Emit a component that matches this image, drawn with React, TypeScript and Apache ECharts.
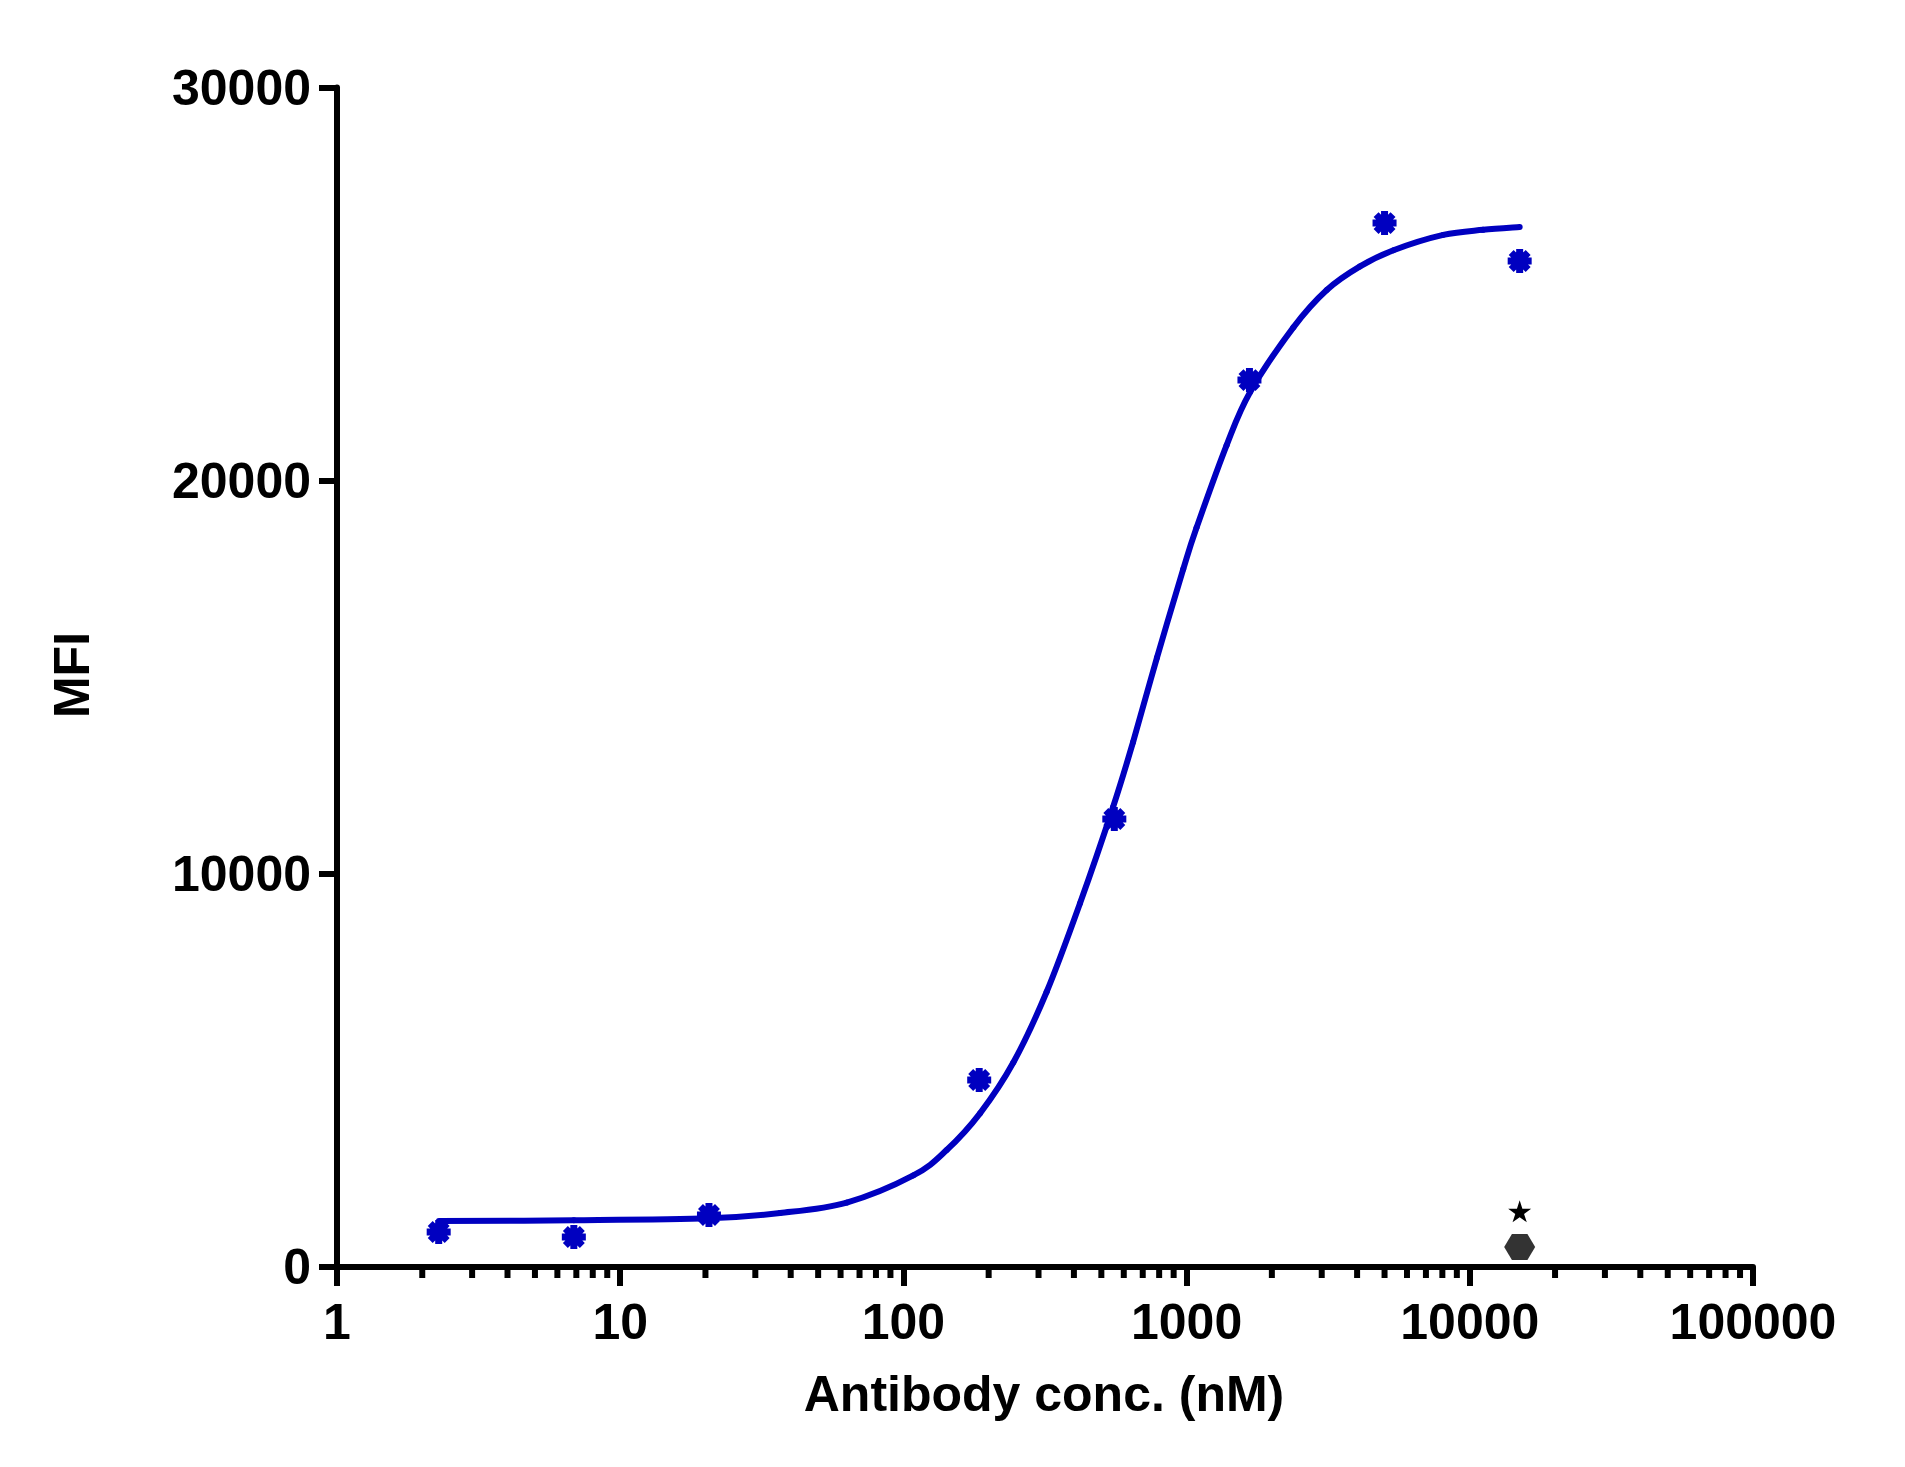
import React, { useEffect, useRef } from "react";
import * as echarts from "echarts";

const concentrations = [2.286, 6.859, 20.58, 185.2, 555.6, 1667, 5000, 15000];
const mfiValues = [890, 763, 1322, 4756, 11394, 22558, 26551, 25585];

// Fitted curve at these concentrations
const fitX = [
  2.29, 6.86, 20.6, 36.7, 63.1, 108.4, 142.2, 186.4, 244.4, 320.6, 420.4, 550, 647, 786, 973,
  1084, 1384, 1675, 2383, 3126, 4096, 5375, 8055, 11143, 15000,
];
const fitY = [
  1170, 1188, 1238, 1373, 1640, 2330, 2976, 3909, 5200, 7000, 9250, 11700, 13350, 15500, 17750,
  18800, 20900, 22250, 23900, 24850, 25450, 25860, 26250, 26380, 26450,
];

// Control markers at the highest concentration
const controlX = [15000];
const starValues = [1416];
const hexValues = [509];

// Axis ticks
const xTickValues = [1, 10, 100, 1000, 10000, 100000];
const yTickValues = [0, 10000, 20000, 30000];
const minorMultipliers = [2, 3, 4, 5, 6, 7, 8, 9];

const FONT = '"Liberation Sans", Arial, Helvetica, sans-serif';
const BLUE = "#0000C0";

const ASTERISK =
  "path://M8.5,0 L15.5,0 L15.5,24 L8.5,24 Z M0,8.5 L24,8.5 L24,15.5 L0,15.5 Z M1.04,5.99 L5.99,1.04 L22.96,18.01 L18.01,22.96 Z M5.99,22.96 L1.04,18.01 L18.01,1.04 L22.96,5.99 Z M12,4 L17.66,6.34 L20,12 L17.66,17.66 L12,20 L6.34,17.66 L4,12 L6.34,6.34 Z";
const STAR =
  "path://M100,0 L122.45,69.1 L195.1,69.1 L136.3,111.8 L158.8,180.9 L100,138.2 L41.2,180.9 L63.7,111.8 L4.9,69.1 L77.55,69.1 Z";
const HEXAGON = "path://M0,13 L7.75,0 L23.25,0 L31,13 L23.25,26 L7.75,26 Z";

export default function App() {
  const ref = useRef<HTMLDivElement>(null);

  useEffect(() => {
    if (!ref.current) return;
    const chart = echarts.init(ref.current, undefined, { renderer: "svg" });

    const minorTicks: number[][] = [];
    for (let i = 0; i < xTickValues.length - 1; i++) {
      minorMultipliers.forEach((m) => minorTicks.push([xTickValues[i] * m, 0]));
    }
    const fitData = fitX.map((x, i) => [x, fitY[i]]);

    const option = {
      animation: false,
      backgroundColor: "#ffffff",
      grid: { left: 337, right: 152, top: 87.5, bottom: 200, containLabel: false },
      xAxis: {
        type: "log",
        logBase: 10,
        min: xTickValues[0],
        max: xTickValues[xTickValues.length - 1],
        splitNumber: 5,
        axisLine: { show: true, lineStyle: { color: "#000", width: 6 } },
        axisTick: { show: true, inside: false, length: 19, lineStyle: { color: "#000", width: 6 } },
        minorTick: { show: false },
        splitLine: { show: false },
        axisLabel: {
          margin: 30,
          color: "#000",
          fontSize: 50,
          fontWeight: "bold",
          fontFamily: FONT,
          formatter: (v: number) => String(Math.round(v)),
        },
      },
      yAxis: {
        type: "value",
        min: yTickValues[0],
        max: yTickValues[yTickValues.length - 1],
        interval: yTickValues[1] - yTickValues[0],
        axisLine: { show: true, lineStyle: { color: "#000", width: 6 } },
        axisTick: { show: true, inside: false, length: 18, lineStyle: { color: "#000", width: 6 } },
        splitLine: { show: false },
        axisLabel: {
          margin: 26,
          color: "#000",
          fontSize: 50,
          fontWeight: "bold",
          fontFamily: FONT,
          formatter: (v: number) => String(Math.round(v)),
        },
      },
      graphic: [
        {
          type: "text",
          x: 1044,
          y: 1394,
          style: {
            text: "Antibody conc. (nM)",
            fill: "#000",
            fontSize: 50,
            fontWeight: "bold",
            fontFamily: FONT,
            align: "center",
            verticalAlign: "middle",
          },
        },
        {
          type: "text",
          x: 71.5,
          y: 675,
          rotation: Math.PI / 2,
          style: {
            text: "MFI",
            fill: "#000",
            fontSize: 50,
            fontWeight: "bold",
            fontFamily: FONT,
            align: "center",
            verticalAlign: "middle",
          },
        },
      ],
      series: [
        {
          type: "custom",
          silent: true,
          clip: false,
          data: minorTicks,
          renderItem: (params: any, api: any) => {
            const p = api.coord([api.value(0), 0]);
            return {
              type: "line",
              shape: { x1: p[0], y1: p[1], x2: p[0], y2: p[1] + 11 },
              style: { stroke: "#000", lineWidth: 6 },
            };
          },
          z: 1,
        },
        {
          // fitted curve: Catmull-Rom bezier segments through the read points (pixel space)
          type: "custom",
          silent: true,
          clip: false,
          data: fitData,
          renderItem: (params: any, api: any) => {
            if (params.dataIndex !== 0) return null;
            const pts = fitData.map((d) => api.coord(d));
            const n = pts.length;
            const children: any[] = [];
            for (let i = 0; i < n - 1; i++) {
              const p0 = pts[Math.max(0, i - 1)];
              const p1 = pts[i];
              const p2 = pts[i + 1];
              const p3 = pts[Math.min(n - 1, i + 2)];
              children.push({
                type: "bezierCurve",
                shape: {
                  x1: p1[0],
                  y1: p1[1],
                  cpx1: p1[0] + (p2[0] - p0[0]) / 6,
                  cpy1: p1[1] + (p2[1] - p0[1]) / 6,
                  cpx2: p2[0] - (p3[0] - p1[0]) / 6,
                  cpy2: p2[1] - (p3[1] - p1[1]) / 6,
                  x2: p2[0],
                  y2: p2[1],
                },
                style: { stroke: BLUE, lineWidth: 6, fill: "none", lineCap: "round" },
              });
            }
            return { type: "group", children };
          },
          z: 3,
        },
        {
          type: "scatter",
          data: concentrations.map((x, i) => [x, mfiValues[i]]),
          symbol: ASTERISK,
          symbolSize: 24,
          itemStyle: { color: BLUE, opacity: 1 },
          z: 4,
        },
        {
          type: "scatter",
          data: controlX.map((x, i) => [x, starValues[i]]),
          symbol: STAR,
          symbolSize: [23, 22],
          itemStyle: { color: "#000", opacity: 1 },
          z: 4,
        },
        {
          type: "scatter",
          data: controlX.map((x, i) => [x, hexValues[i]]),
          symbol: HEXAGON,
          symbolSize: [31, 26],
          itemStyle: { color: "#333333", opacity: 1 },
          z: 4,
        },
      ],
    };

    chart.setOption(option as any);
    return () => chart.dispose();
  }, []);

  return (
    <div
      ref={ref}
      style={{ position: "absolute", left: 0, top: 0, width: 1905, height: 1467, background: "#fff" }}
    />
  );
}
